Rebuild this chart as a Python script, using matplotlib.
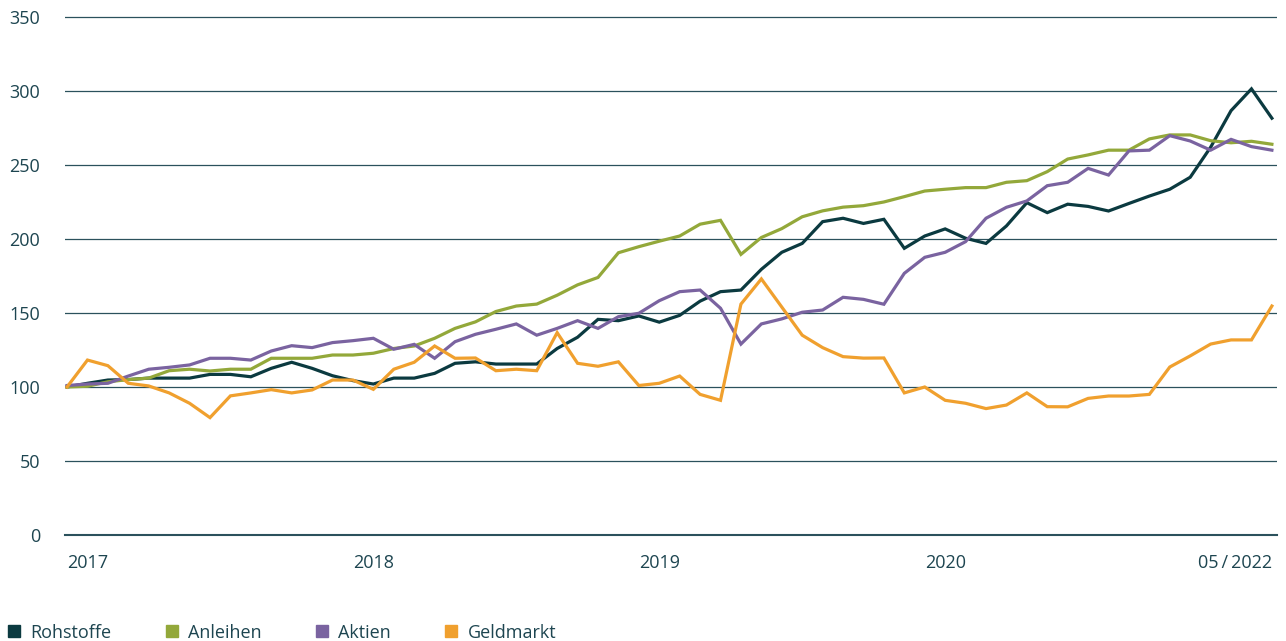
import numpy as np
import matplotlib
matplotlib.use("Agg")
import matplotlib.pyplot as plt
from matplotlib.lines import Line2D

plt.rcParams['font.family'] = ['Open Sans', 'DejaVu Sans']

# monthly index values, start = 100
rohstoffe = [100, 102.5, 104.7, 105, 106, 106, 106, 108.5, 108.5, 106.9,
             112.6, 116.7, 112.6, 107.6, 104.3, 102, 106, 106, 109.2, 116,
             117, 115.5, 115.5, 115.5, 126, 133.6, 145.7, 144.8, 148, 143.8,
             148.4, 158, 164.4, 165.5, 179.5, 191, 197, 211.7, 214, 210.5,
             213.3, 193.7, 202, 206.8, 200.5, 197, 208.8, 224.5, 217.8, 223.5,
             222, 218.9, 224, 229, 233.6, 241.7, 262, 286.7, 301.4, 281.6]
anleihen = [100, 100.5, 103.5, 105, 106, 111, 112, 110.8, 112, 112,
            119.4, 119.4, 119.4, 121.6, 121.6, 122.8, 126, 127.7, 132.9, 139.6,
            144, 151, 154.7, 156, 162, 169, 174, 190.7, 194.8, 198.5,
            202, 210, 212.6, 189.6, 201, 207, 215, 219, 221.5, 222.5,
            225, 228.6, 232.4, 233.6, 234.7, 234.7, 238.3, 239.4, 245.5, 254,
            256.8, 260, 260, 267.6, 270.3, 270.3, 266.4, 265, 266, 264]
aktien = [101, 102, 102.5, 107.4, 112, 113.3, 114.9, 119.4, 119.4, 118.2,
          124.3, 127.9, 126.6, 130, 131.3, 132.9, 125.5, 128.8, 119.4, 130.6,
          135.6, 139, 142.6, 135, 139.6, 144.8, 139.6, 147.5, 149.8, 158.3,
          164.4, 165.5, 153.2, 129, 142.6, 146, 150.5, 152, 160.6, 159.2,
          155.9, 176.8, 187.6, 191, 198.2, 214, 221.4, 225.7, 236, 238.3,
          247.7, 243.2, 259.5, 260, 269.8, 266.2, 260, 267.3, 262.4, 260]
geldmarkt = [100, 118.2, 114.4, 102.5, 100.7, 96, 89, 79.3, 94, 96,
             98.2, 96, 98, 104.7, 104.7, 98.4, 112, 116.7, 127.7, 119.4,
             119.6, 111, 112, 111, 136.7, 116, 114, 117, 101, 102.5,
             107.4, 95, 91, 156, 173, 154, 135, 126.6, 120.5, 119.5,
             119.6, 96, 100, 91, 89, 85.4, 87.8, 96, 86.7, 86.6,
             92.3, 93.9, 93.9, 95, 113.5, 121, 129, 131.8, 131.8, 154.7]

series = ['Rohstoffe', 'Anleihen', 'Aktien', 'Geldmarkt']
colors = ['#0b3a40', '#93a83a', '#7a63a0', '#f0a02e']

tick_pos = [0, 15, 29, 43, 59]
tick_labels = ['2017', '2018', '2019', '2020', '05\u2009/\u20092022']

text_color = '#1d4550'
grid_color = '#2b515c'

W, H = 1286, 641
fig = plt.figure(figsize=(W / 100, H / 100), dpi=100)
ax = fig.add_axes([65 / W, (H - 535) / H, (1277 - 65) / W, (535 - 14) / H])

x = np.arange(len(rohstoffe))
data = [rohstoffe, anleihen, aktien, geldmarkt]
for vals, name, c in zip(data, series, colors):
    ax.plot(x, vals, color=c, lw=2.3, label=name, solid_joinstyle='miter', zorder=3)

ax.set_xlim(-0.1, 59.25)
ax.set_ylim(0, 352)
ax.set_yticks(np.arange(0, 351, 50))
for v in np.arange(50, 351, 50):
    ax.axhline(v, color=grid_color, lw=0.9, zorder=1)
ax.axhline(0, color=grid_color, lw=1.5, zorder=1, clip_on=False)

for s in ax.spines.values():
    s.set_visible(False)
ax.tick_params(axis='both', length=0, labelsize=13, colors=text_color)
ax.tick_params(axis='y', pad=18)
ax.tick_params(axis='x', pad=14)
ax.set_xticks(tick_pos)
ax.set_xticklabels(tick_labels)
xl = ax.get_xticklabels()
xl[0].set_ha('left')
xl[-1].set_ha('right')

handles = [Line2D([], [], marker='s', ls='none', markersize=8.5, color=c) for c in colors]
fig.legend(handles, series, loc='lower left', bbox_to_anchor=(-8 / W, -15 / H),
           ncol=4, frameon=False, fontsize=13, handlelength=0.8,
           handletextpad=0.5, columnspacing=2.95, borderpad=0.3,
           labelcolor=text_color)

fig.savefig('out.png', dpi=100)
